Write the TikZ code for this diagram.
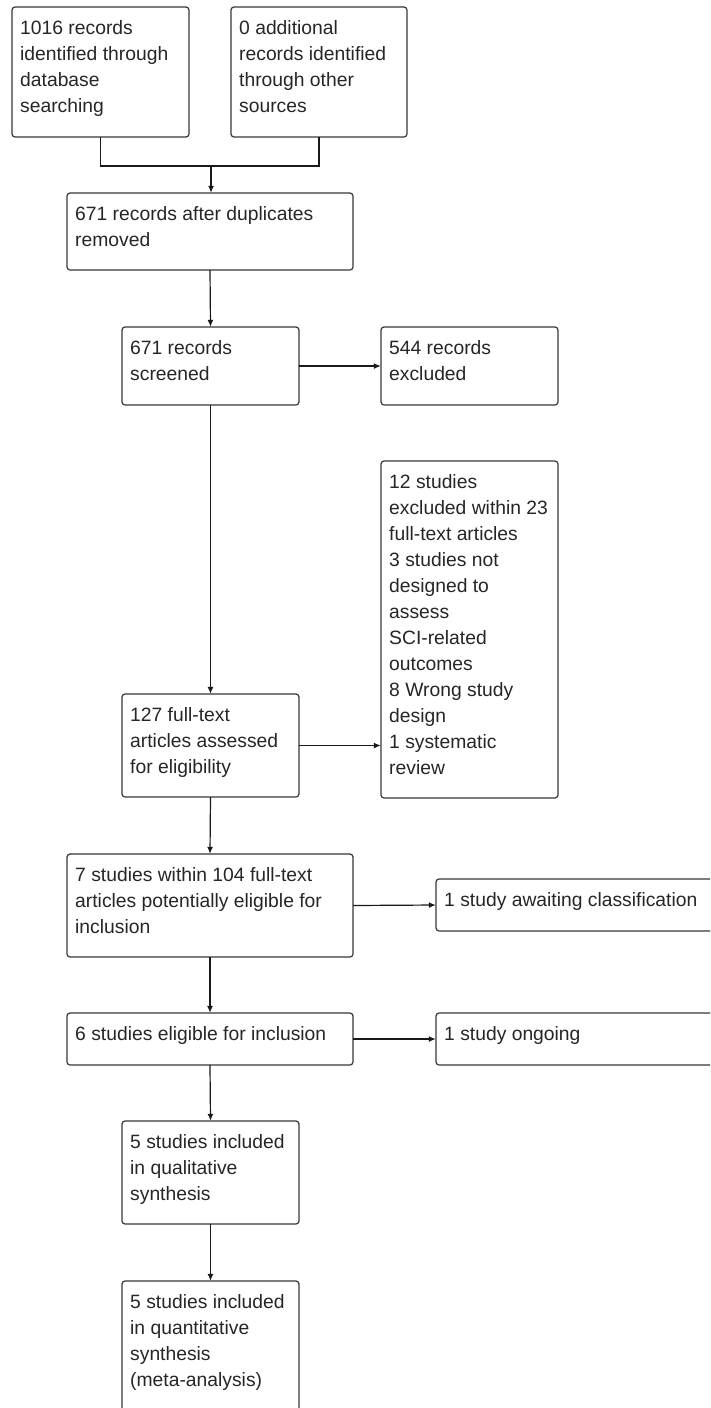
\documentclass[tikz,border=0pt]{standalone}
\usepackage{fontspec}
\setmainfont{Liberation Sans}
\usetikzlibrary{arrows.meta}
\tikzset{
  boxshape/.style={draw=black!78, line width=1.2pt, rounded corners=3pt},
  boxtext/.style={anchor=north west, inner sep=0pt, align=left, text=black!85,
    font=\fontsize{19.3}{26}\selectfont},
  conn/.style={draw=black!90, line width=1.2pt},
  arr/.style={conn, -{Latex[length=7pt,width=6pt]}}
}
\newcommand{\flowbox}[6]{%
  \path[boxshape] (#2,#3) rectangle (#4,#5);
  \node[inner sep=0pt, minimum width={(#4-#2)*1pt}, minimum height={(#5-#3)*1pt}] (#1) at ({(#2+#4)/2},{(#3+#5)/2}) {};
  \node[boxtext] (#1-t) at ({#2+8},{#3+9.5}) {\strut #6};
}
\begin{document}
\begin{tikzpicture}[x=1pt,y=-1pt]
\clip (0,0) rectangle (710,1408);
\fill[white] (0,0) rectangle (710,1408);

\flowbox{b1}{12}{7}{189}{137}{1016 records\\identified through\\database\\searching}
\flowbox{b2}{231}{7}{407}{137}{0 additional\\records identified\\through other\\sources}
\flowbox{b3}{67}{193}{353}{270}{671 records after duplicates\\removed}
\flowbox{b4}{122}{327}{299}{405}{671 records\\screened}
\flowbox{b5}{381}{327}{558}{405}{544 records\\excluded}
\flowbox{b6}{122}{694}{299}{797}{127 full-text\\articles assessed\\for eligibility}
\flowbox{b7}{381}{461}{558}{798}{12 studies\\excluded within 23\\full-text articles\\3 studies not\\designed to\\assess\\SCI-related\\outcomes\\8 Wrong study\\design\\1 systematic\\review}
\flowbox{b8}{67}{854}{353}{957}{7 studies within 104 full-text\\articles potentially eligible for\\inclusion}
\flowbox{b9}{67}{1013}{353}{1065}{6 studies eligible for inclusion}
\flowbox{b10}{122}{1121}{299}{1224}{5 studies included\\in qualitative\\synthesis}
\flowbox{b11}{122}{1281}{299}{1430}{5 studies included\\in quantitative\\synthesis\\(meta-analysis)}
\flowbox{b12}{436}{879}{730}{931}{1 study awaiting classification}
\flowbox{b13}{436}{1013}{730}{1065}{1 study ongoing}

\coordinate (j) at (211,166);
\draw[conn] (b1.south) -- (b1.south |- j) -- (b2.south |- j) -- (b2.south);
\draw[arr] (j) -- (j |- b3.north);
\draw[arr] (b3.south) -- (b4.north);
\draw[arr] (b4.east) -- (b5.west);
\draw[arr] (b4.south) -- (b6.north);
\draw[arr] (b6.east) -- (b6.east -| b7.west);
\draw[arr] (b6.south) -- (b8.south |- b8.north);
\draw[arr] (b8.east) -- (b12.west);
\draw[arr] (b8.south) -- (b9.north);
\draw[arr] (b9.east) -- (b13.west);
\draw[arr] (b9.south) -- (b10.south |- b10.north);
\draw[arr] (b10.south) -- (b11.north);
\end{tikzpicture}
\end{document}
